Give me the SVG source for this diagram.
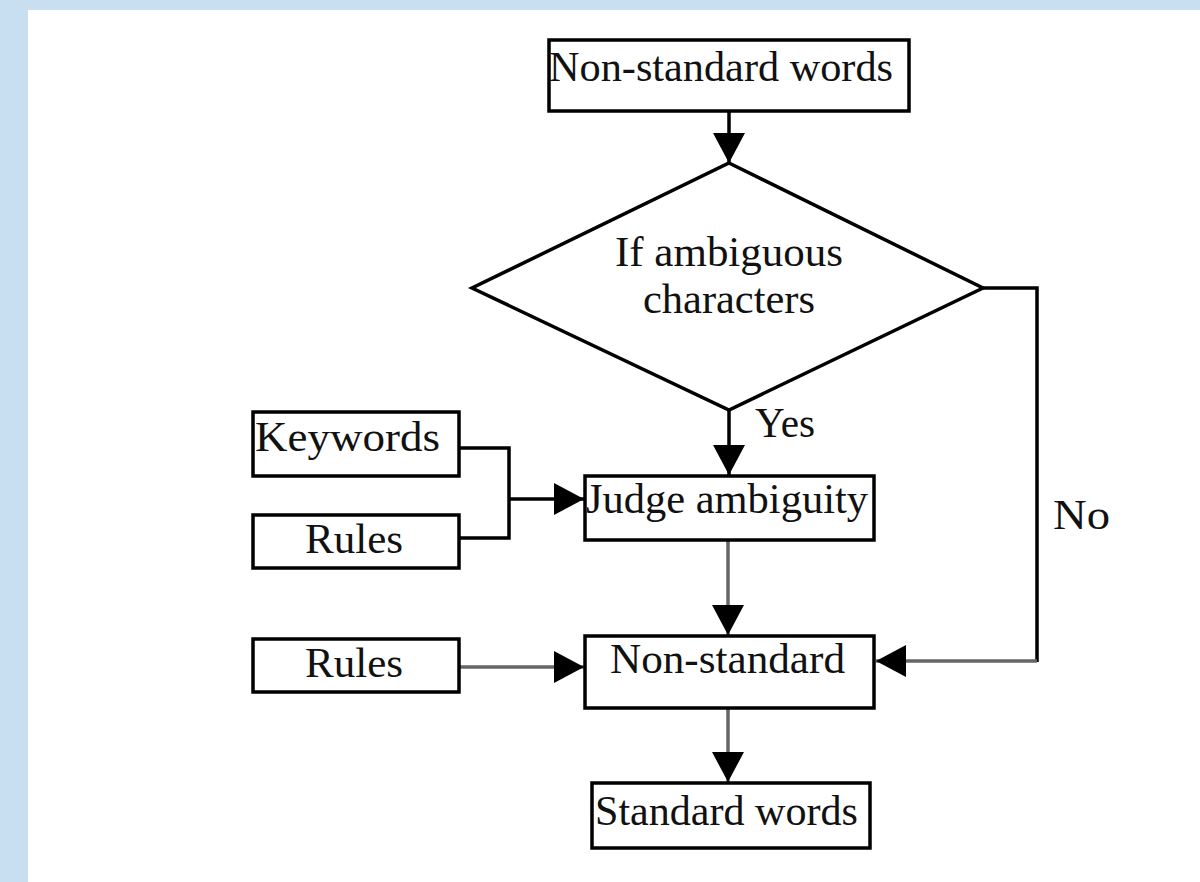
<svg xmlns="http://www.w3.org/2000/svg" width="1200" height="882" viewBox="0 0 1200 882">
<defs>
<marker id="ah" markerUnits="userSpaceOnUse" markerWidth="32" markerHeight="32" viewBox="0 0 30 32" refX="30" refY="16" orient="auto">
<path d="M0,0 L30,16 L0,32 Z" fill="#000"/>
</marker>
</defs>
<style>
.box{fill:#fff;stroke:#000;stroke-width:3.5}
.t{font-family:"Liberation Serif","Times New Roman",serif;font-size:42px;fill:#111}
.c{fill:none;stroke:#000;stroke-width:3.5}
.g{fill:none;stroke:#666;stroke-width:3.5}
</style>
<rect x="0" y="0" width="1200" height="882" fill="#fff"/>
<rect x="0" y="0" width="1200" height="10" fill="#c8dff2"/>
<rect x="0" y="0" width="28" height="882" fill="#c8dff2"/>

<g id="connectors">
<path class="c" d="M729,111 V163" marker-end="url(#ah)"/>
<path class="c" d="M729,410 V475" marker-end="url(#ah)"/>
<path class="c" d="M459,448 H509 V538 H459"/>
<path class="c" d="M509,499 H584" marker-end="url(#ah)"/>
<path class="g" d="M728,540 V635" marker-end="url(#ah)"/>
<path class="g" d="M459,667 H584" marker-end="url(#ah)"/>
<path class="g" d="M728,708 V782" marker-end="url(#ah)"/>
<path class="c" d="M983,288 H1037 V662"/>
<path class="g" d="M1037,661 H876" marker-end="url(#ah)"/>
<text class="t" x="755" y="437" textLength="60" lengthAdjust="spacingAndGlyphs">Yes</text>
<text class="t" x="1053" y="529" textLength="57" lengthAdjust="spacingAndGlyphs">No</text>
</g>

<g id="n-start">
<rect class="box" x="549" y="40" width="360" height="71"/>
<text class="t" x="549" y="81" textLength="344" lengthAdjust="spacingAndGlyphs">Non-standard words</text>
</g>

<g id="n-decision">
<polygon class="box" points="729,163 983,288 729,410 472,288"/>
<text class="t" x="615" y="266" textLength="228" lengthAdjust="spacingAndGlyphs">If ambiguous</text>
<text class="t" x="643" y="313" textLength="172" lengthAdjust="spacingAndGlyphs">characters</text>
</g>

<g id="n-keywords">
<rect class="box" x="253" y="412" width="206" height="64"/>
<text class="t" x="255" y="451" textLength="185" lengthAdjust="spacingAndGlyphs">Keywords</text>
</g>

<g id="n-rules1">
<rect class="box" x="253" y="515" width="206" height="53"/>
<text class="t" x="305" y="553" textLength="98" lengthAdjust="spacingAndGlyphs">Rules</text>
</g>

<g id="n-judge">
<rect class="box" x="585" y="476" width="289" height="64"/>
<text class="t" x="586" y="513" textLength="282" lengthAdjust="spacingAndGlyphs">Judge ambiguity</text>
</g>

<g id="n-rules2">
<rect class="box" x="253" y="639" width="206" height="53"/>
<text class="t" x="305" y="677" textLength="98" lengthAdjust="spacingAndGlyphs">Rules</text>
</g>

<g id="n-nonstd">
<rect class="box" x="585" y="636" width="289" height="72"/>
<text class="t" x="610" y="673" textLength="235" lengthAdjust="spacingAndGlyphs">Non-standard</text>
</g>

<g id="n-standard">
<rect class="box" x="592" y="783" width="278" height="65"/>
<text class="t" x="595" y="825" textLength="263" lengthAdjust="spacingAndGlyphs">Standard words</text>
</g>
</svg>
